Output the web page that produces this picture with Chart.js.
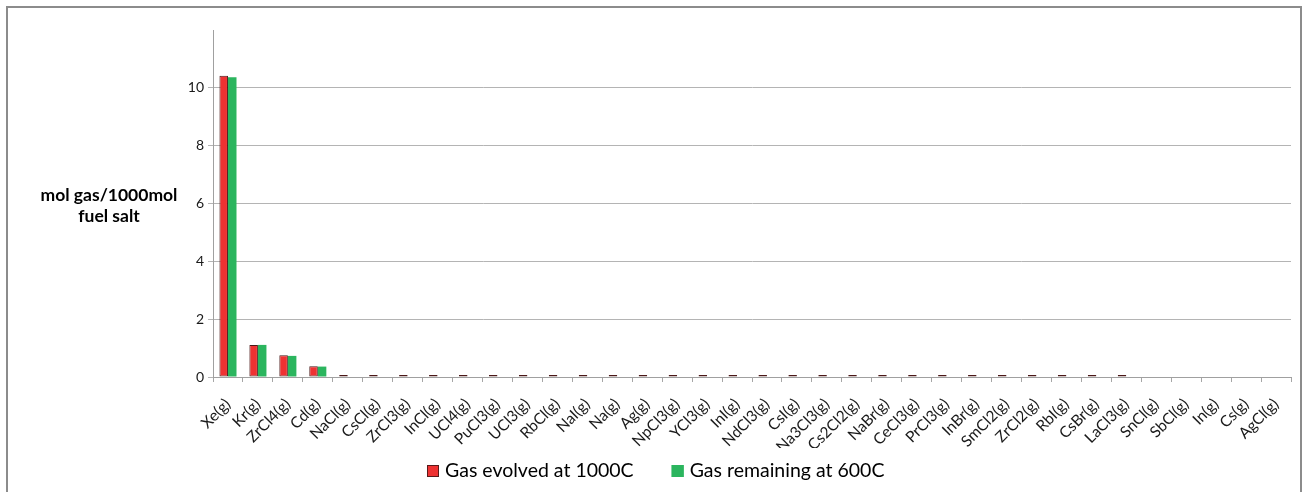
<!DOCTYPE html>
<html>
<head>
<meta charset="utf-8">
<script src="https://cdn.jsdelivr.net/npm/chart.js@4/dist/chart.umd.min.js"></script>
<style>
  html, body { margin: 0; padding: 0; background: #ffffff; overflow: hidden; }
  #frame { position: absolute; left: 6px; top: 6px; width: 1292px; height: 500px; border: 2px solid #8c8c8c; }
  #wrap { position: absolute; left: 0; top: 0; width: 1303px; height: 492px; }
</style>
</head>
<body>
<div id="frame"></div>
<div id="wrap"><canvas id="c" width="1303" height="492"></canvas></div>
<script>
// Gas species released from the fuel salt
const species = ["Xe(g)","Kr(g)","ZrCl4(g)","Cd(g)","NaCl(g)","CsCl(g)","ZrCl3(g)","InCl(g)","UCl4(g)",
  "PuCl3(g)","UCl3(g)","RbCl(g)","NaI(g)","Na(g)","Ag(g)","NpCl3(g)","YCl3(g)","InI(g)","NdCl3(g)",
  "CsI(g)","Na3Cl3(g)","Cs2Cl2(g)","NaBr(g)","CeCl3(g)","PrCl3(g)","InBr(g)","SmCl2(g)","ZrCl2(g)",
  "RbI(g)","CsBr(g)","LaCl3(g)","SnCl(g)","SbCl(g)","In(g)","Cs(g)","AgCl(g)"];

// mol gas per 1000 mol fuel salt
const evolved1000C = [10.42,1.11,0.75,0.37,0.07,0.07,0.07,0.07,0.07,0.07,0.07,0.07,0.07,0.07,0.07,0.07,
  0.07,0.07,0.07,0.07,0.07,0.07,0.07,0.07,0.07,0.07,0.07,0.07,0.07,0.07,0.07,0,0,0,0,0];
const remaining600C = [10.37,1.11,0.73,0.36,0,0,0,0,0,0,0,0,0,0,0,0,
  0,0,0,0,0,0,0,0,0,0,0,0,0,0,0,0,0,0,0,0];

const yTicks = [0, 2, 4, 6, 8, 10];
const seriesNames = ["Gas evolved at 1000C", "Gas remaining at 600C"];
const yTitleLines = ["mol gas/1000mol", "fuel salt"];

const FONT = "Lato, 'Open Sans', 'Liberation Sans', sans-serif";

// horizontal y-axis title to the left of the plot
const yTitlePlugin = {
  id: 'yTitle',
  afterDraw(chart) {
    const ctx = chart.ctx;
    ctx.save();
    ctx.font = "bold 17.5px " + FONT;
    ctx.fillStyle = "#000000";
    ctx.textAlign = "center";
    ctx.textBaseline = "middle";
    ctx.fillText(yTitleLines[0], 109, 195);
    ctx.fillText(yTitleLines[1], 109, 216);
    ctx.restore();
  }
};

// legend row centred under the plot
const legendRowPlugin = {
  id: 'legendRow',
  afterDraw(chart) {
    const ctx = chart.ctx;
    ctx.save();
    ctx.font = "19.5px " + FONT;
    ctx.textBaseline = "middle";
    const box = 12, gapText = 6, gapItem = 38, cy = 470.5;
    const ds = chart.data.datasets;
    const widths = ds.map(d => box + gapText + ctx.measureText(d.label).width);
    const total = widths.reduce((a, b) => a + b, 0) + gapItem * (ds.length - 1);
    let x = Math.round(chart.width / 2 + 4 - total / 2);
    ds.forEach((d, i) => {
      ctx.fillStyle = d.backgroundColor;
      ctx.fillRect(x, Math.round(cy - box / 2), box, box);
      ctx.strokeStyle = i === 0 ? '#5a1a1a' : '#2bb55e';
      ctx.lineWidth = 1;
      ctx.strokeRect(x + 0.5, Math.round(cy - box / 2) + 0.5, box - 1, box - 1);
      ctx.fillStyle = '#000000';
      ctx.fillText(d.label, x + box + gapText, cy);
      x += widths[i] + gapItem;
    });
    ctx.restore();
  }
};

new Chart(document.getElementById('c'), {
  type: 'bar',
  data: {
    labels: species,
    datasets: [
      { label: seriesNames[0], data: evolved1000C, backgroundColor: '#ee3232',
        borderColor: '#4a1818', borderWidth: 1, borderSkipped: false },
      { label: seriesNames[1], data: remaining600C, backgroundColor: '#2bb55e',
        borderColor: '#2bb55e', borderWidth: 0 }
    ]
  },
  options: {
    responsive: false,
    animation: false,
    layout: { padding: { left: 183, right: 12, top: 30, bottom: 44 } },
    datasets: { bar: { categoryPercentage: 0.57, barPercentage: 1.0 } },
    plugins: {
      tooltip: { enabled: false },
      legend: { display: false }
    },
    scales: {
      x: {
        afterFit(s) { s.height = 71; },
        grid: { display: true, drawOnChartArea: false, drawTicks: true, tickLength: 5, color: '#a6a6a6', offset: true },
        border: { color: '#a0a0a0', width: 1 },
        ticks: {
          autoSkip: false, maxRotation: 45, minRotation: 45,
          font: { family: FONT, size: 15.5 }, color: '#1a1a1a', padding: 13
        }
      },
      y: {
        min: 0, max: 12,
        afterFit(s) { s.width = 30; },
        afterBuildTicks(s) { s.ticks = yTicks.concat([12]).map(v => ({ value: v })); },
        grid: {
          color(ctx) { return ctx.tick && ctx.tick.value === 12 ? 'rgba(0,0,0,0)' : '#b4b4b4'; },
          tickLength: 5, drawTicks: true, lineWidth: 1
        },
        border: { color: '#a0a0a0', width: 1 },
        ticks: {
          callback(v) { return yTicks.includes(v) ? String(v) : ''; },
          font: { family: FONT, size: 14 }, color: '#1a1a1a', padding: 4
        }
      }
    }
  },
  plugins: [yTitlePlugin, legendRowPlugin]
});
</script>
</body>
</html>
